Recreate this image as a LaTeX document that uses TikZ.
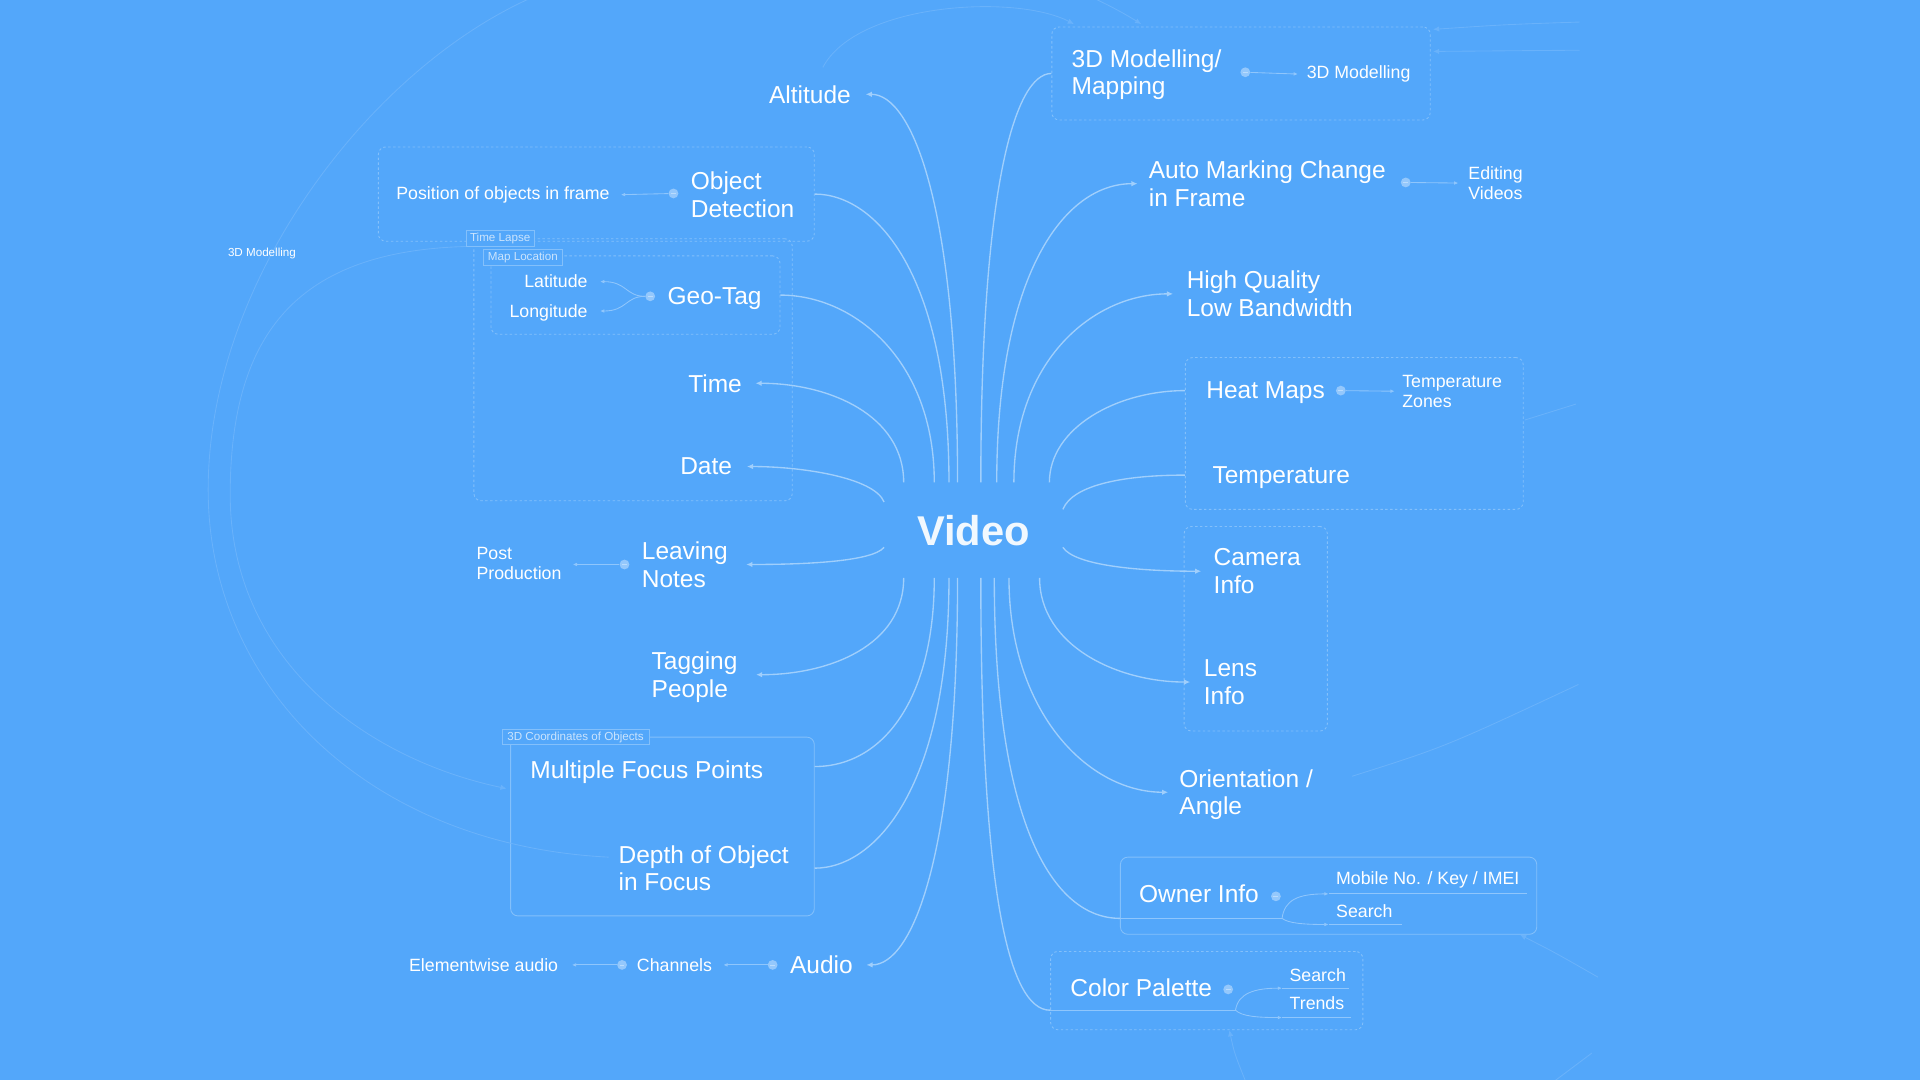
\documentclass[tikz,border=0pt]{standalone}
\usepackage{fontspec}
\setmainfont{Liberation Sans}
\usetikzlibrary{arrows.meta}
\definecolor{bg}{RGB}{83,167,250}
\colorlet{conncol}{bg!55!white}
\colorlet{subcol}{bg!65!white}
\colorlet{boxcol}{bg!72!white}
\colorlet{faintcol}{bg!87!white}
\colorlet{vidcol}{bg!8!white}
\tikzset{
  lbl/.style={text=white, inner sep=0pt, align=left, font=\fontsize{20}{22.5}\selectfont},
  sml/.style={text=white, inner sep=0pt, align=left, font=\fontsize{14.5}{16.5}\selectfont},
  tinyl/.style={text=white, inner sep=0pt, font=\fontsize{9.5}{11}\selectfont},
  tagbox/.style={draw=boxcol, fill=bg, line width=0.6pt, text=bg!30!white, inner sep=0pt, font=\fontsize{9.5}{11}\selectfont},
  dbox/.style={draw=boxcol, line width=0.7pt, dash pattern=on 2pt off 2pt, rounded corners=6pt, inner sep=0pt},
  sbox/.style={draw=boxcol, line width=0.7pt, rounded corners=6pt, inner sep=0pt},
  conn/.style={draw=conncol, line width=1.1pt},
  arr/.style={-{Latex[length=5pt,width=4.5pt]}},
  arrs/.style={-{Latex[length=3.5pt,width=3pt]}},
  subc/.style={draw=subcol, line width=0.7pt},
  xline/.style={draw=faintcol, line width=0.7pt},
  knob/.style={circle, fill=bg!62!white, minimum size=8pt, inner sep=0pt,
    path picture={\draw[bg!40!white, line width=0.6pt] ([xshift=-2pt]path picture bounding box.center) -- ([xshift=2pt]path picture bounding box.center);}},
}
\begin{document}
\begin{tikzpicture}[x=1pt,y=-1pt]
\useasboundingbox (0,0) rectangle (1568,882);
\clip (0,0) rectangle (1568,882);
\fill[bg] (0,0) rectangle (1568,882);

% ---------- boxes ----------
\node[dbox, minimum width=356, minimum height=77] (bObj) at (487,158.5) {};
\node[dbox, minimum width=260, minimum height=214] (bTime) at (517,302) {};
\node[dbox, minimum width=236, minimum height=64] (bMap) at (519,241) {};
\node[sbox, minimum width=248, minimum height=146] (b3Dc) at (541,675) {};
\node[dbox, minimum width=309, minimum height=76] (b3Dm) at (1013.5,60) {};
\node[dbox, minimum width=276, minimum height=124] (bHeat) at (1106,354) {};
\node[dbox, minimum width=117, minimum height=167] (bCam) at (1025.5,513.5) {};
\node[sbox, minimum width=340, minimum height=63] (bOwn) at (1085,731.5) {};
\node[dbox, minimum width=255, minimum height=64] (bCol) at (985.5,809) {};

% ---------- faint cross connections (behind) ----------
\node[tagbox, minimum width=55, minimum height=13] (tlTag) at (408.5,194.5) {Time Lapse};
\node[lbl, anchor=east] (alt) at (695,77) {Altitude};
\node[lbl, anchor=west] (depth) at (505,709) {Depth of Object\\in Focus};
\draw[xline, arr] ([shift={(-23,-22)}]alt.east) .. controls (700,2) and (830,-5) .. ([shift={(-136.5,-2)}]b3Dm.north);
\draw[xline, arr] ([shift={(-8,-9)}]depth.west) .. controls (300,690) and (170,560) .. (170,400)
   .. controls (170,230) and (300,60) .. (430,0) .. controls (600,-80) and (820,-50) .. ([shift={(-81.5,-2)}]b3Dm.north);
\draw[xline, arr] (tlTag.south west) .. controls (245,205) and (188,270) .. (188,404)
   .. controls (188,540) and (300,620) .. ([shift={(-3,-31)}]b3Dc.west);
\coordinate (e1) at (1290,18);
\coordinate (e2) at (1290,41);
\coordinate (e3) at (1287,330);
\coordinate (e4) at (1289,559);
\coordinate (e5) at (1305,798);
\coordinate (e6) at (1018,885);
\coordinate (e7) at (1268,884);
\coordinate (e8) at (1300,860);

\node[tagbox, minimum width=55, minimum height=13] at (tlTag) {Time Lapse};
\node[tagbox, minimum width=64, minimum height=13] (mlTag) at (427,210.5) {Map Location};
\node[tagbox, minimum width=120, minimum height=12] (cTag) at (470,602) {3D Coordinates of Objects};

% ---------- centre ----------
\node[font=\bfseries\fontsize{34}{40}\selectfont, text=vidcol, inner sep=0pt] (video) at (795,433) {Video};

% ---------- left labels ----------
\node[lbl, anchor=west] (obj) at (564,159) {Object\\Detection};
\node[sml, anchor=east] (pos) at (498,159) {Position of objects in frame};
\node[knob] (kObj) at (550,158) {};
\node[sml, anchor=east] (lat) at (480,230) {Latitude};
\node[sml, anchor=east] (lon) at (480,255.5) {Longitude};
\node[lbl, anchor=west] (geo) at (545,244) {Geo-Tag};
\node[knob] (kGeo) at (531,242) {};
\node[lbl, anchor=east] (time) at (606,313) {Time};
\node[lbl, anchor=east] (date) at (598,381) {Date};
\node[lbl, anchor=west] (leave) at (524,461) {Leaving\\Notes};
\node[knob] (kLeave) at (510,461) {};
\node[sml, anchor=west] (post) at (389,460) {Post\\Production};
\node[lbl, anchor=west] (tagp) at (532,553) {Tagging\\People};
\node[lbl, anchor=west] (mfp) at (433,631) {Multiple Focus Points};
\node[lbl, anchor=west] (audio) at (645,788) {Audio};
\node[knob] (kAudio) at (631,788) {};
\node[sml, anchor=west] (chan) at (520,788) {Channels};
\node[knob] (kChan) at (508,788) {};
\node[sml, anchor=east] (elem) at (456,788) {Elementwise audio};
\node[tinyl, anchor=west] (mod3l) at (186,207) {3D Modelling};

% ---------- right labels ----------
\node[lbl, anchor=west] (mapg) at (875,61) {3D Modelling/\\Mapping};
\node[knob] (k3D) at (1017,59) {};
\node[sml, anchor=west] (m3d) at (1067,60.5) {3D Modelling};
\node[lbl, anchor=west] (auto) at (938,150) {Auto Marking Change\\in Frame};
\node[knob] (kAuto) at (1148,149) {};
\node[sml, anchor=west] (edit) at (1199,149.5) {Editing\\Videos};
\node[lbl, anchor=west] (hq) at (969,240) {High Quality\\Low Bandwidth};
\node[lbl, anchor=west] (heat) at (985,321) {Heat Maps};
\node[knob] (kHeat) at (1095,319) {};
\node[sml, anchor=west] (tz) at (1145,319.5) {Temperature\\Zones};
\node[lbl, anchor=west] (temp) at (990,390) {Temperature};
\node[lbl, anchor=west] (cam) at (991,466.5) {Camera\\Info};
\node[lbl, anchor=west] (lens) at (983,557) {Lens\\Info};
\node[lbl, anchor=west] (ori) at (963,649) {Orientation /\\Angle};
\node[lbl, anchor=west] (own) at (930,730) {Owner Info};
\node[knob] (kOwn) at (1042,732) {};
\node[sml, anchor=west] (mob) at (1091,718.5) {Mobile No. / Key / IMEI};
\node[sml, anchor=west] (srch1) at (1091,744) {Search};
\node[lbl, anchor=west] (col) at (874,807) {Color Palette};
\node[knob] (kCol) at (1003,808) {};
\node[sml, anchor=west] (srch2) at (1053,796) {Search};
\node[sml, anchor=west] (trend) at (1053,819.5) {Trends};

% ---------- right-hand faint connections ----------
\draw[xline, arr] (e1) .. controls (1230,20) .. ([shift={(2,-36)}]b3Dm.east);
\draw[xline, arr] (e2) -- ([shift={(2,-18)}]b3Dm.east);
\draw[xline] ([shift={(1,-11)}]bHeat.east) -- (e3);
\draw[xline] ([shift={(141,-15)}]ori.west) .. controls (1180,610) .. (e4);
\draw[xline, arr] (e5) .. controls (1270,778) .. ([shift={(-14,0)}]bOwn.south east);
\draw[xline, arr] (e6) .. controls (1008,860) .. ([shift={(18.5,0)}]bCol.south);
\draw[xline] (e7) -- (e8);

% ---------- main connectors ----------
\draw[conn, arr] ([shift={(-13,-39)}]video.center) .. controls +(0,-225) and +(38,0) .. ([xshift=12pt]alt.east);
\draw[conn] ([shift={(-20,-39)}]video.center) .. controls +(0,-170) and +(50,0) .. (bObj.east);
\draw[conn] ([shift={(-32,-39)}]video.center) .. controls +(0,-100) and +(60,0) .. (bMap.east);
\draw[conn, arr] ([shift={(-57,-39)}]video.center) .. controls +(0,-55) and +(60,0) .. ([xshift=11pt]time.east);
\draw[conn, arr] ([shift={(-73,-23)}]video.center) .. controls +(-8,-20) and +(45,0) .. ([xshift=12pt]date.east);
\draw[conn, arr] ([shift={(-73,14)}]video.center) .. controls +(-10,12) and +(45,0) .. ([xshift=15pt]leave.east);
\draw[conn, arr] ([shift={(-57,39)}]video.center) .. controls +(0,55) and +(60,0) .. ([shift={(15,-2)}]tagp.east);
\draw[conn] ([shift={(-32,39)}]video.center) .. controls +(0,100) and +(55,0) .. ([shift={(0,-49)}]b3Dc.east);
\draw[conn] ([shift={(-20,39)}]video.center) .. controls +(0,170) and +(50,0) .. ([shift={(0,34)}]b3Dc.east);
\draw[conn, arr] ([shift={(-13,39)}]video.center) .. controls +(0,225) and +(38,0) .. ([xshift=11pt]audio.east);

\draw[conn] ([shift={(6,-39)}]video.center) .. controls +(0,-240) and +(-30,0) .. (b3Dm.west);
\draw[conn, arr] ([shift={(19,-39)}]video.center) .. controls +(0,-170) and +(-60,0) .. ([xshift=-9pt]auto.west);
\draw[conn, arr] ([shift={(33,-39)}]video.center) .. controls +(0,-100) and +(-65,0) .. ([xshift=-11pt]hq.west);
\draw[conn] ([shift={(62,-39)}]video.center) .. controls +(0,-45) and +(-55,0) .. ([shift={(0,-35)}]bHeat.west);
\draw[conn] ([shift={(73,-17)}]video.center) .. controls +(8,-20) and +(-50,0) .. ([shift={(0,34)}]bHeat.west);
\draw[conn, arr] ([shift={(73,14)}]video.center) .. controls +(10,15) and +(-50,0) .. ([xshift=-10pt]cam.west);
\draw[conn, arr] ([shift={(54,39)}]video.center) .. controls +(0,55) and +(-60,0) .. ([xshift=-11pt]lens.west);
\draw[conn, arr] ([shift={(29,39)}]video.center) .. controls +(0,110) and +(-65,0) .. ([shift={(-9,-2)}]ori.west);
\coordinate (ownFork) at (1047,750);
\coordinate (colFork) at (1009,825);
\draw[conn] ([shift={(17,39)}]video.center) .. controls +(0,200) and +(-55,0) .. ([shift={(0,18.5)}]bOwn.west);
\draw[subc] ([shift={(0,18.5)}]bOwn.west) -- (ownFork);
\draw[conn] ([shift={(6,39)}]video.center) .. controls +(0,250) and +(-35,0) .. ([shift={(0,16)}]bCol.west);
\draw[subc] ([shift={(0,16)}]bCol.west) -- (colFork);

% ---------- sub connectors ----------
\draw[subc, arrs] (kObj) -- ([xshift=9pt]pos.east);
\draw[subc, arrs] (kGeo.west) .. controls +(-16,0) and +(22,0) .. ([xshift=10pt]lat.east);
\draw[subc, arrs] (kGeo.west) .. controls +(-16,0) and +(22,0) .. ([shift={(10,-1.5)}]lon.east);
\draw[subc, arrs] (kLeave) -- ([shift={(9,1)}]post.east);
\draw[subc, arrs] (kAudio) -- ([xshift=9pt]chan.east);
\draw[subc, arrs] (kChan) -- ([xshift=11pt]elem.east);
\draw[subc, arrs] (k3D) -- ([xshift=-7pt]m3d.west);
\draw[subc, arrs] (kAuto) -- ([xshift=-8pt]edit.west);
\draw[subc, arrs] (kHeat) -- ([xshift=-6pt]tz.west);

\coordinate (mobA) at ([shift={(-6,11.5)}]mob.west);
\coordinate (mobB) at ([shift={(6,11.5)}]mob.east);
\coordinate (srA) at ([shift={(-6,11)}]srch1.west);
\coordinate (srB) at ([shift={(8,11)}]srch1.east);
\draw[subc, arrs] (ownFork) .. controls +(2,-15) and +(-25,0) .. (mobA);
\draw[subc, arrs] (ownFork) .. controls +(5,4) and +(-20,0) .. (srA);
\draw[subc] (mobA) -- (mobB);
\draw[subc] (srA) -- (srB);

\coordinate (s2A) at ([shift={(-6,11)}]srch2.west);
\coordinate (trA) at ([shift={(-6,11.5)}]trend.west);
\coordinate (trB) at ([shift={(5,11.5)}]trend.east);
\draw[subc, arrs] (colFork) .. controls +(2,-14) and +(-22,0) .. (s2A);
\draw[subc, arrs] (colFork) .. controls +(5,5) and +(-20,0) .. (trA);
\draw[subc] (s2A) -- ([shift={(55,0)}]s2A);
\draw[subc] (trA) -- (trB);
\end{tikzpicture}
\end{document}
